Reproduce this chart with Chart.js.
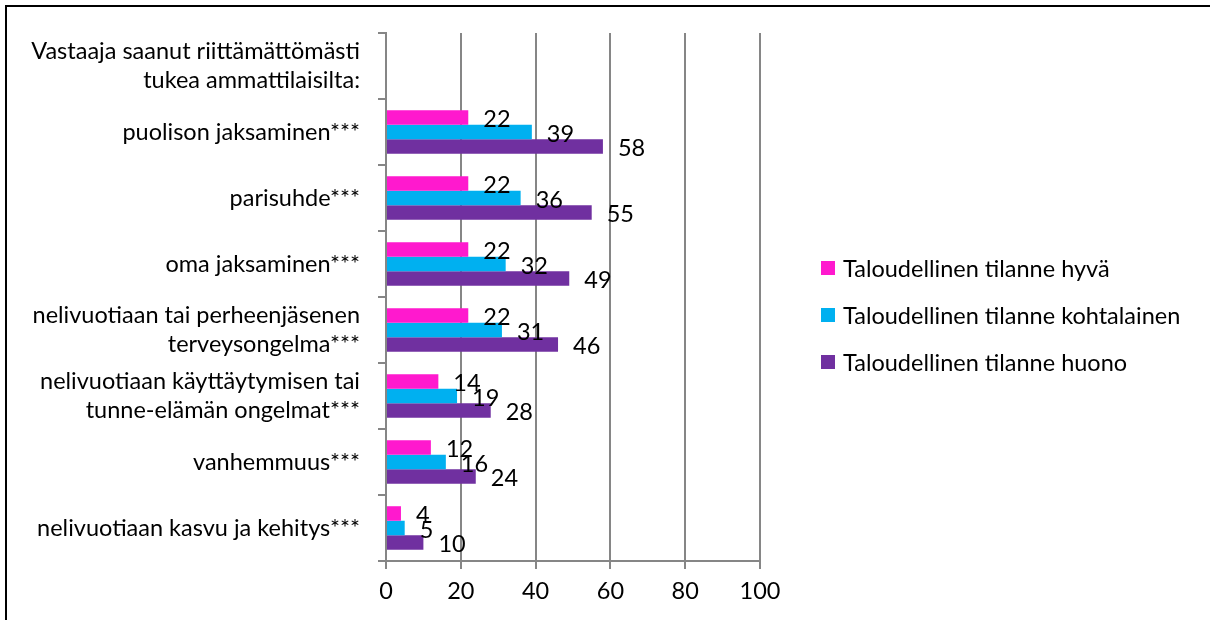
<!DOCTYPE html>
<html>
<head>
<meta charset="utf-8">
<script src="https://cdn.jsdelivr.net/npm/chart.js@4.4.1/dist/chart.umd.min.js"></script>
<style>
  html, body { margin: 0; padding: 0; background: #fff; overflow: hidden; }
  #frame {
    position: absolute; left: 5px; top: 5px;
    width: 1205px; height: 615px;
    border-left: 2px solid #000; border-top: 2px solid #000;
    box-sizing: border-box;
  }
  #chart { position: absolute; left: 0; top: 0; }
</style>
</head>
<body>
<div id="frame"></div>
<canvas id="chart" width="1210" height="620"></canvas>
<script>
// categories (top to bottom), first one is a heading row with no bars
const categories = [
  ["Vastaaja saanut riittämättömästi", "tukea ammattilaisilta:"],
  "puolison jaksaminen***",
  "parisuhde***",
  "oma jaksaminen***",
  ["nelivuotiaan tai perheenjäsenen", "terveysongelma***"],
  ["nelivuotiaan käyttäytymisen tai", "tunne-elämän ongelmat***"],
  "vanhemmuus***",
  "nelivuotiaan kasvu ja kehitys***",
];

const seriesNames = [
  "Taloudellinen tilanne hyvä",
  "Taloudellinen tilanne kohtalainen",
  "Taloudellinen tilanne huono",
];

const hyva = [null, 22, 22, 22, 22, 14, 12, 4];
const kohtalainen = [null, 39, 36, 32, 31, 19, 16, 5];
const huono = [null, 58, 55, 49, 46, 28, 24, 10];

const xTicks = [0, 20, 40, 60, 80, 100];

const colors = ["#FF19CE", "#00B0F0", "#7030A0"];
const gridColor = "#868686";
const fontFamily = "Lato, 'Open Sans', sans-serif";
const fontSize = 23.5;

//draw values just right of each bar end
const valueLabels = {
  id: "valueLabels",
  afterDatasetsDraw(chart) {
    const ctx = chart.ctx;
    ctx.save();
    ctx.font = fontSize + "px " + fontFamily;
    ctx.fillStyle = "#000";
    ctx.textAlign = "left";
    ctx.textBaseline = "middle";
    chart.data.datasets.forEach((ds, i) => {
      const meta = chart.getDatasetMeta(i);
      meta.data.forEach((bar, j) => {
        const v = ds.data[j];
        if (v === null || v === undefined) return;
        ctx.fillText(String(v), bar.x + 15, bar.y + 2);
      });
    });
    ctx.restore();
  },
};

//legend on the right, drawn from the datasets
const sideLegend = {
  id: "sideLegend",
  afterDraw(chart) {
    const ctx = chart.ctx;
    const x = 821;
    const y0 = 268;
    const step = 47;
    ctx.save();
    ctx.font = fontSize + "px " + fontFamily;
    ctx.textAlign = "left";
    ctx.textBaseline = "middle";
    chart.data.datasets.forEach((ds, i) => {
      const y = y0 + i * step;
      ctx.fillStyle = ds.backgroundColor;
      ctx.fillRect(x, y - 7, 14, 14);
      ctx.fillStyle = "#000";
      ctx.fillText(ds.label, x + 22, y + 1);
    });
    ctx.restore();
  },
};

const datasets = [hyva, kohtalainen, huono].map((data, i) => ({
  label: seriesNames[i],
  data: data,
  backgroundColor: colors[i],
  borderWidth: 0,
  categoryPercentage: 0.66,
  barPercentage: 1.0,
}));

new Chart(document.getElementById("chart"), {
  type: "bar",
  data: { labels: categories, datasets: datasets },
  options: {
    indexAxis: "y",
    responsive: false,
    animation: false,
    devicePixelRatio: 1,
    layout: { padding: { top: 33, right: 450, left: 0, bottom: 0 } },
    plugins: {
      legend: { display: false },
      tooltip: { enabled: false },
    },
    scales: {
      x: {
        min: 0,
        max: 100,
        afterBuildTicks: (scale) => {
          scale.ticks = xTicks.map((v) => ({ value: v }));
        },
        afterFit: (scale) => { scale.height = 59; },
        grid: {
          color: gridColor,
          lineWidth: 2,
          drawOnChartArea: true,
          drawTicks: true,
          tickLength: 8,
        },
        border: { color: gridColor, width: 2 },
        ticks: {
          color: "#000",
          padding: 8,
          font: { family: fontFamily, size: fontSize },
        },
      },
      y: {
        afterFit: (scale) => { scale.width = 386; },
        grid: {
          color: gridColor,
          lineWidth: 2,
          offset: true,
          drawOnChartArea: false,
          drawTicks: true,
          tickLength: 8,
        },
        border: { color: gridColor, width: 2 },
        ticks: {
          color: "#000",
          padding: 18,
          autoSkip: false,
          font: { family: fontFamily, size: fontSize, lineHeight: 1.2 },
        },
      },
    },
  },
  plugins: [valueLabels, sideLegend],
});
</script>
</body>
</html>
